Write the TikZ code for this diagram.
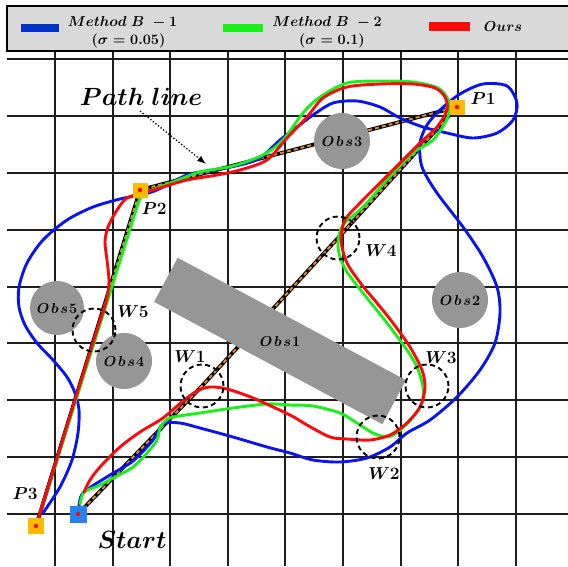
\documentclass[tikz,border=0pt]{standalone}
\usetikzlibrary{arrows.meta}

\definecolor{trajblue}{RGB}{10,20,240}
\definecolor{trajgreen}{RGB}{25,240,25}
\definecolor{trajred}{RGB}{250,10,10}
\definecolor{legblue}{RGB}{0,50,200}
\definecolor{pathorange}{RGB}{232,140,50}
\definecolor{markorange}{RGB}{255,185,0}
\definecolor{startblue}{RGB}{40,130,235}
\definecolor{obsgray}{RGB}{150,150,150}
\definecolor{leggray}{RGB}{217,217,217}
\definecolor{gridline}{RGB}{30,30,30}

\begin{document}
\begin{tikzpicture}[
  x=1pt, y=-1pt,
  gridln/.style={gridline, line width=1.9pt},
  legtxt/.style={font=\boldmath\fontsize{15}{17}\selectfont, inner sep=0pt},
  lbl/.style={font=\boldmath\fontsize{17.5}{20}\selectfont, inner sep=0pt},
  obslbl/.style={font=\boldmath\fontsize{15}{17}\selectfont, inner sep=0pt},
  obs/.style={circle, fill=obsgray, minimum size=56pt, inner sep=0pt},
  wpt/.style={circle, draw, dashed, dash pattern=on 5pt off 3.5pt, line width=1.9pt, minimum size=43pt, inner sep=0pt},
  pmark/.style={rectangle, fill=markorange, minimum size=15pt, inner sep=0pt},
  smark/.style={rectangle, fill=startblue, minimum size=17pt, inner sep=0pt},
  traj/.style={line width=2.9pt, line join=round, line cap=round},
  >=Latex
]
\useasboundingbox (0,0) rectangle (568,566);

% --- grille ---
\foreach \gx in {55,112.6,170.2,227.8,285.4,343,400.6,458.2,515.8}
  \draw[gridln] (\gx,51) -- (\gx,566);
\foreach \gy in {59,116,173,230,287,343,400,457,514}
  \draw[gridln] (7,\gy) -- (568,\gy);

% --- legende ---
\draw[line width=1.2pt, fill=leggray] (7,6) rectangle (569,51);
\fill[legblue] (21,24) rectangle (59,32);
\node[legtxt] (m1a) at (122.5,22) {$Method\ B\ -1$};
\node[legtxt] (m1b) at (128.5,41) {$(\sigma=0.05)$};
\fill[trajgreen] (223,24) rectangle (263,32);
\node[legtxt] (m2a) at (327,22) {$Method\ B\ -2$};
\node[legtxt] (m2b) at (332,41) {$(\sigma=0.1)$};
\fill[trajred] (429,22) rectangle (470,31);
\node[legtxt] (ours) at (503,27) {$Ours$};

% --- points de passage ---
\coordinate (cs) at (78,514);
\coordinate (cw1) at (202,386);
\coordinate (cw4) at (338,238);
\coordinate (cp1) at (457,107);
\coordinate (cp2) at (140,190);
\coordinate (cp3) at (36,526);

% --- path line (sous Obs1) ---
\draw[line width=3.8pt, black] (cs) -- (cw1) -- (cw4) -- (cp1) -- (cp2) -- (cp3);
\draw[line width=1.9pt, pathorange, dash pattern=on 4pt off 3pt] (cs) -- (cw1) -- (cw4) -- (cp1) -- (cp2) -- (cp3);

% --- obstacles ---
\node[rectangle, fill=obsgray, minimum width=259pt, minimum height=50pt, rotate=-28.2] (obs1) at (280,341) {};
\node[obs] (obs2) at (460,300) {};
\node[obs] (obs3) at (342,141) {};
\node[obs] (obs4) at (124,361) {};
\node[obs, minimum size=54pt] (obs5) at (57,308) {};
\node[obslbl] at (obs1) {$O\mkern2mu b\mkern2mu s\mkern1mu 1$};
\node[obslbl] at (obs2) {$O\mkern2mu b\mkern2mu s\mkern1mu 2$};
\node[obslbl] at (obs3) {$O\mkern2mu b\mkern2mu s\mkern1mu 3$};
\node[obslbl] at (obs4) {$O\mkern2mu b\mkern2mu s\mkern1mu 4$};
\node[obslbl] at (obs5) {$O\mkern2mu b\mkern2mu s\mkern1mu 5$};

% --- Method B-1 ---
\draw[traj, trajblue] plot[smooth, tension=0.5] coordinates {
  (79,508) (83,493) (110,475) (133,461) (153,440) (163,424) (180,423) (200,428)
  (233,437) (267,447) (290,453) (313,460) (340,462) (367,458) (390,447) (407,433)
  (430,420) (457,397) (480,370) (495,343) (500,313) (497,287) (483,257) (463,227)
  (437,193) (422,167) (420,143) (427,125) (440,110) (460,94) (483,84) (507,86)
  (517,103) (513,120) (497,133) (473,138) (447,133) (423,127) (400,118) (380,107)
  (357,101) (333,103) (313,115) (297,127) (280,140) (260,158) (240,165) (213,170)
  (187,175) (157,190) (140,195) (120,199) (93,207) (67,220) (43,240) (27,263)
  (19,287) (19,307) (25,325) (37,343) (53,360) (67,377) (75,393) (79,410)
  (78,433) (72,460) (60,487) (43,513)};

% --- Method B-2 ---
\draw[traj, trajgreen] plot[smooth, tension=0.5] coordinates {
  (80,504) (84,492) (98,486) (117,476) (133,467) (147,453) (157,440) (160,428)
  (165,421) (173,417) (200,413) (233,408) (267,404) (290,405) (313,406) (340,413)
  (357,423) (373,433) (387,437) (398,432) (412,418) (422,403) (423,387) (417,367)
  (407,350) (387,323) (363,293) (347,272) (340,257) (338,242) (343,225) (363,207)
  (387,180) (413,153) (433,140) (448,117) (448,100) (438,88) (413,82) (380,81)
  (347,83) (320,97) (303,113) (283,140) (263,155) (233,166) (200,172) (173,182)
  (147,192) (141,197) (137,207) (110,293) (102,318) (40,513)};

% --- Ours ---
\draw[traj, trajred] plot[smooth, tension=0.5] coordinates {
  (84,492) (90,480) (100,467) (120,447) (140,432) (163,418) (183,401) (197,391)
  (210,387) (227,389) (253,398) (290,415) (307,425) (330,437) (347,439) (370,440)
  (390,435) (407,423) (420,407) (425,388) (422,370) (410,347) (393,323) (377,303)
  (362,285) (347,263) (341,240) (345,220) (360,203) (380,183) (400,163) (420,143)
  (437,127) (447,110) (445,97) (435,88) (413,84) (380,84) (347,87) (323,98)
  (307,117) (287,138) (267,160) (240,170) (217,175) (187,180) (163,187) (143,193)
  (127,198) (117,210) (108,227) (105,242) (107,260) (109,282) (106,302) (97,330)
  (75,400) (55,465) (40,513) (37,522)};

% --- waypoints ---
\node[wpt] (w1) at (cw1) {};
\node[wpt] (w2) at (378,437) {};
\node[wpt] (w3) at (427,386) {};
\node[wpt] (w4) at (cw4) {};
\node[wpt] (w5) at (94,330) {};
\node[lbl] (w1l) at (190,357) {$W1$};
\node[lbl] (w2l) at (384,474) {$W2$};
\node[lbl] (w3l) at (441,358) {$W3$};
\node[lbl] (w4l) at (381,251) {$W4$};
\node[lbl] (w5l) at (133,312) {$W5$};

% --- marqueurs ---
\node[pmark] (p1) at (cp1) {};
\node[pmark] (p2) at (cp2) {};
\node[pmark, minimum size=16pt] (p3) at (cp3) {};
\node[smark] (start) at (cs) {};
\foreach \m in {p1,p2,p3,start}
  \fill[trajred] (\m.center) circle (2.2pt);
\node[lbl] (p1l) at (483,99) {$P1$};
\node[lbl] (p2l) at (154,209) {$P2$};
\node[lbl] (p3l) at (25,494) {$P3$};
\node[font=\boldmath\fontsize{25}{28}\selectfont, inner sep=0pt] (startl) at (132,540) {$Start$};

% --- path line label ---
\node[font=\boldmath\fontsize{24}{28}\selectfont, inner sep=0pt] (pl) at (141,97) {$Path\ line$};
\coordinate (plend) at (206,164);
\draw[->, line width=1.3pt, dotted] (140,111) -- (plend);

\end{tikzpicture}
\end{document}
